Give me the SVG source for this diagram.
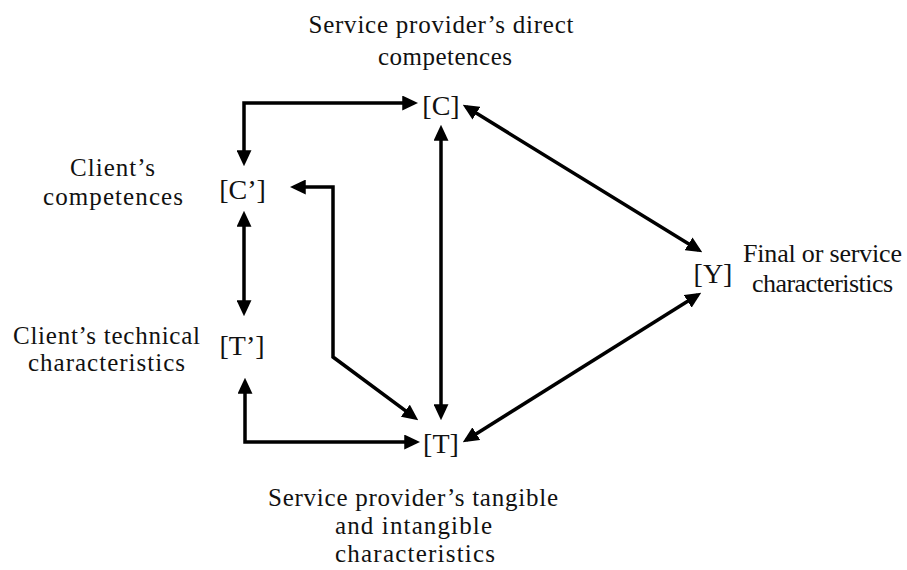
<svg xmlns="http://www.w3.org/2000/svg" width="907" height="570" viewBox="0 0 907 570">
  <style>
    .lbl { font-family: "Liberation Serif", "Times New Roman", serif; font-size: 25px; fill: #111; text-anchor: middle; }
    .ylbl { font-family: "Liberation Serif", "Times New Roman", serif; font-size: 26px; fill: #111; text-anchor: middle; }
    .node { font-family: "Liberation Serif", "Times New Roman", serif; font-size: 28px; fill: #111; text-anchor: middle; }
    .link { fill: none; stroke: #000; stroke-width: 3.5; stroke-linejoin: miter; marker-start: url(#ah); marker-end: url(#ah); }
  </style>
  <defs>
    <marker id="ah" markerUnits="userSpaceOnUse" markerWidth="16" markerHeight="15" viewBox="0 0 15 14" refX="11" refY="7" orient="auto-start-reverse">
      <path d="M0,0 L15,7 L0,14 z" fill="#000"/>
    </marker>
  </defs>
  <rect width="907" height="570" fill="#fff"/>

  <!-- connectors (all two-way) -->
  <g id="connectors">
    <path class="link" d="M244,162 L244,103 L414,103"/>
    <path class="link" d="M244,215 L244,312"/>
    <path class="link" d="M245,382 L245,442 L416,442"/>
    <path class="link" d="M441,129 L441,416"/>
    <path class="link" d="M294,187 L333,187 L333,357 L414.8,417.6"/>
    <path class="link" d="M466.4,107.1 L698.6,249.9"/>
    <path class="link" d="M466.4,439.9 L697.6,295.1"/>
  </g>

  <g id="node-C">
    <text class="node" x="441" y="115">[C]</text>
    <text class="lbl" x="441" y="33" textLength="265">Service provider’s direct</text>
    <text class="lbl" x="445" y="65" textLength="134">competences</text>
  </g>

  <g id="node-Cp">
    <text class="node" x="242.5" y="199">[C’]</text>
    <text class="lbl" x="112.5" y="176" textLength="85">Client’s</text>
    <text class="lbl" x="113" y="205" textLength="140">competences</text>
  </g>

  <g id="node-Tp">
    <text class="node" x="242" y="355">[T’]</text>
    <text class="lbl" x="106.5" y="344" textLength="187">Client’s technical</text>
    <text class="lbl" x="106.5" y="371" textLength="157">characteristics</text>
  </g>

  <g id="node-T">
    <text class="node" x="441" y="453">[T]</text>
    <text class="lbl" x="413" y="506" textLength="290">Service provider’s tangible</text>
    <text class="lbl" x="413.5" y="534" textLength="157">and intangible</text>
    <text class="lbl" x="415" y="562" textLength="160">characteristics</text>
  </g>

  <g id="node-Y">
    <text class="node" x="713" y="283">[Y]</text>
    <text class="ylbl" x="822.5" y="262" textLength="159">Final or service</text>
    <text class="ylbl" x="822.5" y="292" textLength="141">characteristics</text>
  </g>
</svg>
